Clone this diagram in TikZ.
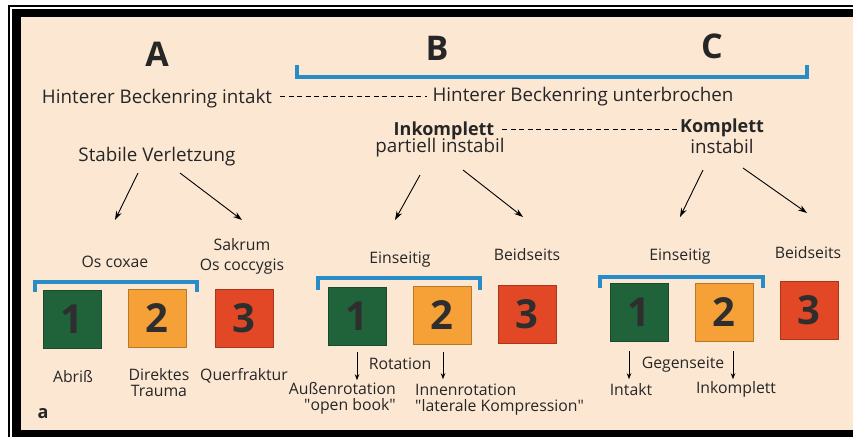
\documentclass[tikz,border=0pt]{standalone}
\usepackage{fontspec}
\setmainfont{Open Sans}
\usetikzlibrary{arrows.meta}

\definecolor{paper}{RGB}{252,232,210}
\definecolor{txt}{RGB}{38,38,38}
\definecolor{brk}{RGB}{40,140,200}
\definecolor{boxgreen}{RGB}{32,98,58}
\definecolor{boxorange}{RGB}{246,160,56}
\definecolor{boxred}{RGB}{226,72,38}

\begin{document}
\begin{tikzpicture}[x=1pt, y=-1pt,
  every node/.style = {text=txt, inner sep=0pt, align=center, anchor=base},
  big/.style = {font=\fontsize{34}{34}\selectfont\bfseries, anchor=center},
  lbl/.style = {font=\fontsize{18.8}{20}\selectfont},
  blbl/.style = {font=\fontsize{18}{20}\selectfont\bfseries},
  sml/.style = {font=\fontsize{15.8}{16}\selectfont},
  numbox/.style = {anchor=center, minimum size=58pt, draw=#1!75!black,
    fill=#1, font=\fontsize{40}{40}\selectfont\bfseries, text=black!82},
  bracket/.style = {draw=brk, line width=3.2pt},
  arr/.style = {-{Stealth[length=9pt,width=6pt]}, line width=0.9pt},
  darr/.style = {-{Stealth[length=6pt,width=4.5pt]}, line width=0.8pt},
  dots/.style = {dash pattern=on 5pt off 3.5pt, line width=1pt}]
  \useasboundingbox (0,0) rectangle (853,437);
  % frame
  \fill[paper] (21,17) rectangle (853,430);
  \fill[black] (12,9) rectangle (853,17);
  \fill[black] (12,9) rectangle (21,437);
  \fill[black] (12,430) rectangle (853,437);
  \fill[black] (8,5) rectangle (853,7);
  \fill[black] (8,5) rectangle (10,437);

  % head row
  \node[big] (A) at (157,54) {A};
  \node[big] (B) at (437,48) {B};
  \node[big] (C) at (712,46) {C};
  \draw[bracket] (297,65) |- (807,77) -- (807,65);

  \node[lbl] (intakt) at (157,103) {Hinterer Beckenring intakt};
  \node[lbl] (unterbr) at (583,101) {Hinterer Beckenring unterbrochen};
  \draw[dots] ([xshift=8pt,yshift=7pt]intakt.base east) -- ([xshift=-5pt,yshift=5pt]unterbr.base west);

  \node[lbl] (stabil) at (157,161) {Stabile Verletzung};
  \node[blbl] (inkompl) at (444,135) {Inkomplett};
  \node[lbl] (partiell) at (440,152) {partiell instabil};
  \node[blbl] (kompl) at (722,132) {Komplett};
  \node[lbl] (instabil) at (722,153) {instabil};
  \draw[dots] ([xshift=8pt,yshift=6pt]inkompl.base east) -- ([xshift=-2pt,yshift=3pt]kompl.base west);

  % arrows
  \draw[arr] (stabil.base) ++(-19,12) -- ++(-23,47);
  \draw[arr] (stabil.base) ++(23,12) -- ++(62,47);
  \draw[arr] (partiell.base) ++(-20,23) -- ++(-25,45);
  \draw[arr] (partiell.base) ++(23,18) -- ++(60,47);
  \draw[arr] (instabil.base) ++(-19,17) -- ++(-23,47);
  \draw[arr] (instabil.base) ++(21,15) -- ++(64,45);

  % group A
  \node[sml] (coxae) at (115,267) {Os coxae};
  \node[sml, font=\fontsize{15.8}{20}\selectfont] (sakrum) at (242,270) {Sakrum\\Os coccygis};
  \draw[bracket] (35,292) |- (197,282) -- (197,292);
  \node[numbox=boxgreen] (a1) at (72,319) {1};
  \node[numbox=boxorange] (a2) at (157,318) {2};
  \node[numbox=boxred] (a3) at (244,318) {3};
  \node[sml] (abriss) at (73,382) {Abriß};
  \node[sml, font=\fontsize{15.8}{15.5}\selectfont] (trauma) at (159,396) {Direktes\\Trauma};
  \node[sml] (quer) at (244,380) {Querfraktur};
  \node[font=\fontsize{18}{18}\selectfont\bfseries] (panel) at (43,418) {a};

  % group B
  \node[sml] (einsB) at (400,263) {Einseitig};
  \node[sml] (beidB) at (527,260) {Beidseits};
  \draw[bracket] (318,290) |- (480,278) -- (480,290);
  \node[numbox=boxgreen] (b1) at (357,316) {1};
  \node[numbox=boxorange] (b2) at (442,315) {2};
  \node[numbox=boxred] (b3) at (527,314) {3};
  \node[sml] (rotation) at (400,369) {Rotation};
  \draw[darr] (b1.south) ++(0,7) -- ++(0,28);
  \draw[darr] (b2.south) ++(1,8) -- ++(0,27);
  \node[sml, anchor=base east, align=right, font=\fontsize{15.8}{15.5}\selectfont] (aussen) at (396,410) {Außenrotation\\\textquotedbl open book\textquotedbl};
  \node[sml, anchor=base west, align=left, font=\fontsize{15.8}{15.5}\selectfont] (innen) at (415,411) {Innenrotation\\\textquotedbl laterale Kompression\textquotedbl};

  % group C
  \node[sml] (einsC) at (680,260) {Einseitig};
  \node[sml] (beidC) at (808,258) {Beidseits};
  \draw[bracket] (600,288) |- (763,277) -- (763,288);
  \node[numbox=boxgreen] (c1) at (639,312) {1};
  \node[numbox=boxorange] (c2) at (724,312) {2};
  \node[numbox=boxred] (c3) at (809,310) {3};
  \node[sml] (gegen) at (683,368) {Gegenseite};
  \draw[darr] (c1.south) ++(-10,10) -- ++(0,28);
  \draw[darr] (c2.south) ++(9,10) -- ++(0,28);
  \node[sml] (intaktC) at (631,395) {Intakt};
  \node[sml] (inkomplC) at (736,393) {Inkomplett};
\end{tikzpicture}
\end{document}
